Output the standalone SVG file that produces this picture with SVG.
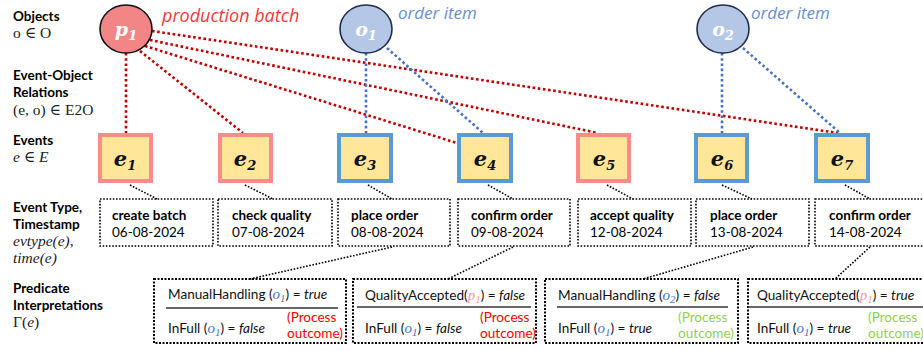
<svg xmlns="http://www.w3.org/2000/svg" width="923" height="350" viewBox="0 0 923 350">
<style>
.lbl{font-family:Lato,"Open Sans",sans-serif;font-size:13.5px;fill:#000}
.b{font-weight:bold}
.m{font-family:"Liberation Serif","DejaVu Serif",serif;font-size:15.5px;fill:#222}
.mi{font-style:italic}
.ev{fill:#FFE699;stroke-width:4}
.evr{stroke:#FF8A8A}
.evb{stroke:#5B9BD5}
.evt{font-family:"DejaVu Serif","Liberation Serif",serif;font-weight:bold;font-style:italic;font-size:21px;fill:#111}
.sub{font-size:13px}
.tbox{fill:none;stroke:#000;stroke-width:1.6;stroke-dasharray:1.6 1.6}
.pbox{fill:none;stroke:#000;stroke-width:2;stroke-dasharray:2 1.5}
.txt{font-family:Lato,"Open Sans",sans-serif;font-size:13.5px;fill:#000}
.ptxt{font-family:Lato,"Open Sans",sans-serif;font-size:13.6px;fill:#111}
.red{stroke:#C00000;stroke-width:2.6;stroke-dasharray:2.6 2.6;fill:none}
.blue{stroke:#4472C4;stroke-width:2.6;stroke-dasharray:2.6 2.6;fill:none}
.blk{stroke:#000;stroke-width:1.6;stroke-dasharray:1.6 1.6;fill:none}
.hr{stroke:#333;stroke-width:1.3}
.ov{font-family:"Liberation Serif","DejaVu Serif",serif;font-style:italic;fill:#4472C4;font-size:15px}
.pv{font-family:"Liberation Serif","DejaVu Serif",serif;font-style:italic;fill:#F4A0A0;font-size:15px}
.ps{font-size:11px}
.objt{font-family:"DejaVu Serif","Liberation Serif",serif;font-weight:bold;font-style:italic;font-size:19px;fill:#fff}
</style>

<!-- row labels -->
<g id="row-labels">
<text class="lbl b" x="13" y="21">Objects</text>
<text class="m" x="13" y="38">o ∈ O</text>
<text class="lbl b" x="13" y="80">Event-Object</text>
<text class="lbl b" x="13" y="97">Relations</text>
<text class="m" x="13" y="115">(e, o) ∈ E2O</text>
<text class="lbl b" x="13" y="145">Events</text>
<text class="m mi" x="13" y="162">e ∈ E</text>
<text class="lbl b" x="13" y="212">Event Type,</text>
<text class="lbl b" x="13" y="229">Timestamp</text>
<text class="m mi" x="13" y="246">evtype(e),</text>
<text class="m mi" x="13" y="263">time(e)</text>
<text class="lbl b" x="13" y="293">Predicate</text>
<text class="lbl b" x="13" y="310">Interpretations</text>
<text class="m" x="13" y="327">Γ(<tspan class="mi">e</tspan>)</text>
</g>

<!-- connectors -->
<g id="connectors">
<line class="red" x1="126" y1="53" x2="126" y2="133"/>
<line class="red" x1="140" y1="51" x2="243" y2="133"/>
<line class="red" x1="145" y1="46" x2="457" y2="143"/>
<line class="red" x1="150" y1="40" x2="598" y2="133"/>
<line class="red" x1="152" y1="31" x2="838" y2="133"/>
<line class="blue" x1="366" y1="53" x2="366" y2="133"/>
<line class="blue" x1="387" y1="48" x2="483" y2="133"/>
<line class="blue" x1="722" y1="53" x2="722" y2="133"/>
<line class="blue" x1="743" y1="48" x2="840" y2="133"/>
<line class="blk" x1="130" y1="185" x2="157" y2="199"/>
<line class="blk" x1="245" y1="185" x2="273" y2="199"/>
<line class="blk" x1="368" y1="185" x2="392" y2="199"/>
<line class="blk" x1="488" y1="185" x2="513" y2="199"/>
<line class="blk" x1="607" y1="185" x2="633" y2="199"/>
<line class="blk" x1="722" y1="185" x2="752" y2="199"/>
<line class="blk" x1="845" y1="185" x2="870" y2="199"/>
<line class="blk" x1="392" y1="247" x2="250" y2="279"/>
<line class="blk" x1="513" y1="247" x2="448" y2="279"/>
<line class="blk" x1="753" y1="247" x2="643" y2="279"/>
<line class="blk" x1="870" y1="247" x2="835" y2="279"/>
</g>

<!-- objects -->
<g id="p1">
<ellipse cx="126" cy="29" rx="26" ry="24" fill="#F28585" stroke="#111" stroke-width="1.6"/>
<text class="objt" x="126" y="36" text-anchor="middle">p<tspan class="sub" dy="4">1</tspan></text>
<text x="162" y="22" font-family="'Open Sans',Lato,sans-serif" font-style="italic" font-size="18" fill="#F23A3A">production batch</text>
</g>
<g id="o1">
<ellipse cx="366" cy="29" rx="26" ry="24" fill="#B4C7E7" stroke="#1F2D4A" stroke-width="1.6"/>
<text class="objt" x="366" y="36" text-anchor="middle">o<tspan class="sub" dy="4">1</tspan></text>
<text x="398" y="19" font-family="'Open Sans',Lato,sans-serif" font-style="italic" font-size="17" fill="#6A8FD0">order item</text>
</g>
<g id="o2">
<ellipse cx="723" cy="29" rx="26" ry="24" fill="#B4C7E7" stroke="#1F2D4A" stroke-width="1.6"/>
<text class="objt" x="723" y="36" text-anchor="middle">o<tspan class="sub" dy="4">2</tspan></text>
<text x="751" y="19" font-family="'Open Sans',Lato,sans-serif" font-style="italic" font-size="17" fill="#6A8FD0">order item</text>
</g>

<!-- events -->
<g id="e1"><rect class="ev evr" x="100" y="135" width="51" height="46"/><text class="evt" x="125" y="166" text-anchor="middle">e<tspan class="sub" dy="4">1</tspan></text></g>
<g id="e2"><rect class="ev evr" x="220" y="135" width="51" height="46"/><text class="evt" x="245" y="166" text-anchor="middle">e<tspan class="sub" dy="4">2</tspan></text></g>
<g id="e3"><rect class="ev evb" x="339" y="135" width="52" height="46"/><text class="evt" x="365" y="166" text-anchor="middle">e<tspan class="sub" dy="4">3</tspan></text></g>
<g id="e4"><rect class="ev evb" x="459" y="135" width="52" height="46"/><text class="evt" x="485" y="166" text-anchor="middle">e<tspan class="sub" dy="4">4</tspan></text></g>
<g id="e5"><rect class="ev evr" x="578" y="135" width="51" height="46"/><text class="evt" x="604" y="166" text-anchor="middle">e<tspan class="sub" dy="4">5</tspan></text></g>
<g id="e6"><rect class="ev evb" x="696" y="135" width="51" height="46"/><text class="evt" x="722" y="166" text-anchor="middle">e<tspan class="sub" dy="4">6</tspan></text></g>
<g id="e7"><rect class="ev evb" x="816" y="135" width="52" height="46"/><text class="evt" x="842" y="166" text-anchor="middle">e<tspan class="sub" dy="4">7</tspan></text></g>

<!-- event type boxes -->
<g id="t1"><rect class="tbox" x="100" y="199" width="113" height="47"/><text class="txt b" x="112" y="220">create batch</text><text class="txt" x="112" y="237">06-08-2024</text></g>
<g id="t2"><rect class="tbox" x="218" y="199" width="114" height="47"/><text class="txt b" x="232" y="220">check quality</text><text class="txt" x="232" y="237">07-08-2024</text></g>
<g id="t3"><rect class="tbox" x="338" y="199" width="112" height="47"/><text class="txt b" x="351" y="220">place order</text><text class="txt" x="351" y="237">08-08-2024</text></g>
<g id="t4"><rect class="tbox" x="458" y="199" width="112" height="47"/><text class="txt b" x="471" y="220">confirm order</text><text class="txt" x="471" y="237">09-08-2024</text></g>
<g id="t5"><rect class="tbox" x="578" y="199" width="113" height="47"/><text class="txt b" x="590" y="220">accept quality</text><text class="txt" x="590" y="237">12-08-2024</text></g>
<g id="t6"><rect class="tbox" x="696" y="199" width="113" height="47"/><text class="txt b" x="710" y="220">place order</text><text class="txt" x="710" y="237">13-08-2024</text></g>
<g id="t7"><rect class="tbox" x="815" y="199" width="115" height="47"/><text class="txt b" x="829" y="220">confirm order</text><text class="txt" x="829" y="237">14-08-2024</text></g>

<!-- predicate boxes -->
<g id="pA">
<rect class="pbox" x="154" y="279" width="192" height="64"/>
<text class="ptxt" x="168" y="299">ManualHandling (<tspan class="ov">o</tspan><tspan class="ov ps" dy="3">1</tspan><tspan dy="-3">) = </tspan><tspan font-style="italic">true</tspan></text>
<line class="hr" x1="166" y1="308" x2="338" y2="308"/>
<text class="ptxt" x="168" y="333">InFull (<tspan class="ov">o</tspan><tspan class="ov ps" dy="3">1</tspan><tspan dy="-3">) = </tspan><tspan font-style="italic">false</tspan></text>
<text class="ptxt" x="287" y="322" style="fill:#FF0000">(Process</text>
<text class="ptxt" x="287" y="338" style="fill:#FF0000">outcome)</text>
</g>
<g id="pB">
<rect class="pbox" x="353" y="279" width="183" height="64"/>
<text class="ptxt" x="365" y="300">QualityAccepted(<tspan class="pv">p</tspan><tspan class="pv ps" dy="3">1</tspan><tspan dy="-3">) = </tspan><tspan font-style="italic">false</tspan></text>
<line class="hr" x1="357" y1="307" x2="531" y2="307"/>
<text class="ptxt" x="365" y="333">InFull (<tspan class="ov">o</tspan><tspan class="ov ps" dy="3">1</tspan><tspan dy="-3">) = </tspan><tspan font-style="italic">false</tspan></text>
<text class="ptxt" x="480" y="322" style="fill:#FF0000">(Process</text>
<text class="ptxt" x="480" y="338" style="fill:#FF0000">outcome)</text>
</g>
<g id="pC">
<rect class="pbox" x="545" y="279" width="193" height="64"/>
<text class="ptxt" x="558" y="300">ManualHandling (<tspan class="ov">o</tspan><tspan class="ov ps" dy="3">2</tspan><tspan dy="-3">) = </tspan><tspan font-style="italic">false</tspan></text>
<line class="hr" x1="557" y1="307" x2="728" y2="307"/>
<text class="ptxt" x="558" y="333">InFull (<tspan class="ov">o</tspan><tspan class="ov ps" dy="3">1</tspan><tspan dy="-3">) = </tspan><tspan font-style="italic">true</tspan></text>
<text class="ptxt" x="678" y="322" style="fill:#92D050">(Process</text>
<text class="ptxt" x="678" y="338" style="fill:#92D050">outcome)</text>
</g>
<g id="pD">
<rect class="pbox" x="748" y="279" width="185" height="64"/>
<text class="ptxt" x="757" y="300">QualityAccepted(<tspan class="pv">p</tspan><tspan class="pv ps" dy="3">1</tspan><tspan dy="-3">) = </tspan><tspan font-style="italic">true</tspan></text>
<line class="hr" x1="748" y1="307" x2="923" y2="307"/>
<text class="ptxt" x="757" y="333">InFull (<tspan class="ov">o</tspan><tspan class="ov ps" dy="3">1</tspan><tspan dy="-3">) = </tspan><tspan font-style="italic">true</tspan></text>
<text class="ptxt" x="868" y="322" style="fill:#92D050">(Process</text>
<text class="ptxt" x="868" y="338" style="fill:#92D050">outcome)</text>
</g>
</svg>
